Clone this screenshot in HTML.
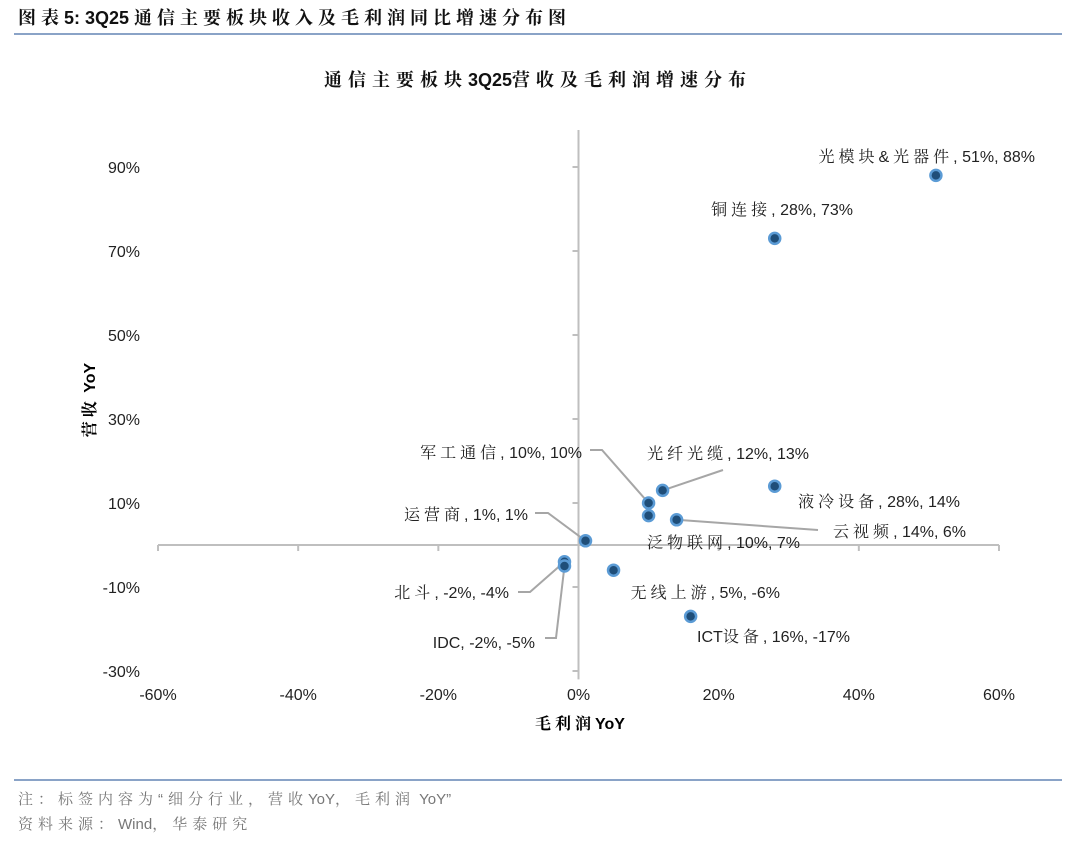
<!DOCTYPE html>
<html><head><meta charset="utf-8"><style>
body{margin:0;background:#fff;width:1080px;height:841px;overflow:hidden;font-family:"Liberation Sans","Noto Sans CJK SC",sans-serif;}
svg text{font-family:"Liberation Sans","Noto Serif CJK SC",serif;}
</style></head><body>
<svg width="1080" height="841">
<text id="ftitle" x="18" y="24" font-size="18" font-weight="bold" fill="#111"></text>
<line x1="14" y1="34" x2="1062" y2="34" stroke="#8aa3c7" stroke-width="2"/>
<text id="ctitle" x="538" y="86" font-size="18" font-weight="bold" text-anchor="middle" fill="#111"></text>
<g id="axes"></g>
<g id="leaders" stroke="#a6a6a6" stroke-width="2" fill="none"></g>
<g id="pts"></g>
<g id="lbls" font-size="16" fill="#222"></g>
<text id="xt" x="580" y="729" font-size="16" font-weight="bold" text-anchor="middle"></text>
<text id="yt" transform="translate(95,400) rotate(-90)" font-size="16" font-weight="bold" text-anchor="middle"></text>
<line x1="14" y1="780" x2="1062" y2="780" stroke="#8aa3c7" stroke-width="2"/>
<text id="n1" x="18" y="804" font-size="15" fill="#777"></text>
<text id="n2" x="18" y="829" font-size="15" fill="#777"></text>
</svg>
<script>
const names=["光模块&光器件","铜连接","军工通信","光纤光缆","泛物联网","云视频","液冷设备","运营商","北斗","IDC","无线上游","ICT设备"];
const grossYoY=[51,28,10,12,10,14,28,1,-2,-2,5,16];
const revYoY=[88,73,10,13,7,6,14,1,-4,-5,-6,-17];
const xTicks=[-60,-40,-20,0,20,40,60];
const yTicks=[90,70,50,30,10,-10,-30];
const lblPos=[[1035,162,"end"],[853,215,"end"],[582,458,"end"],[809,459,"end"],[800,548,"end"],[966,537,"end"],[960,507,"end"],[528,520,"end"],[509,598,"end"],[535,648,"end"],[780,598,"end"],[850,642,"end"]];
const X=v=>578.5+v*7.008, Y=v=>545-v*4.2;
const NS="http://www.w3.org/2000/svg";
function mk(t,a,p){const e=document.createElementNS(NS,t);for(const k in a)e.setAttribute(k,a[k]);p.appendChild(e);return e;}
function fill(el,s,ls){
  const re=/([\u3000-\u9fff\uff00-\uffef“”，：&]+)|([^\u3000-\u9fff\uff00-\uffef“”，：&]+)/g;let m;
  while((m=re.exec(s))){const sp=mk('tspan',{},el);sp.textContent=m[0];if(m[1])sp.setAttribute('letter-spacing',ls);}
}
fill(document.getElementById('ftitle'),"图表5:  3Q25 通信主要板块收入及毛利润同比增速分布图",5);
fill(document.getElementById('ctitle'),"通信主要板块3Q25营收及毛利润增速分布",6);
fill(document.getElementById('xt'),"毛利润YoY",4);
fill(document.getElementById('yt'),"营收 YoY",4);
fill(document.getElementById('n1'),"注：标签内容为“细分行业，营收YoY，毛利润 YoY”",5);
fill(document.getElementById('n2'),"资料来源：Wind，华泰研究",5);
const ax=document.getElementById('axes');
let e=mk('line',{x1:158,y1:Y(0),x2:999,y2:Y(0),stroke:'#bfbfbf','stroke-width':2},ax);


e=mk('line',{x1:X(0),y1:130,x2:X(0),y2:Y(-32),stroke:'#bfbfbf','stroke-width':2},ax);


xTicks.forEach(v=>{
  mk('line',{x1:X(v),y1:Y(0),x2:X(v),y2:Y(0)+6,stroke:'#bfbfbf','stroke-width':2},ax);
  const t=mk('text',{x:X(v),y:700,'font-size':16,'text-anchor':'middle',fill:'#222'},ax);t.textContent=v+'%';
  
  
});
yTicks.forEach(v=>{
  mk('line',{x1:X(0)-6,y1:Y(v),x2:X(0),y2:Y(v),stroke:'#bfbfbf','stroke-width':2},ax);
  const t=mk('text',{x:140,y:Y(v)+6,'font-size':16,'text-anchor':'end',fill:'#222'},ax);t.textContent=v+'%';
  
  
});
const ld=document.getElementById('leaders');
const lead=[[2,[[590,450],[602,450]]],[3,[[723,470]]],[7,[[535,513],[548,513]]],[5,[[818,530]]],[8,[[518,592],[530,592]]],[9,[[545,638],[556,638]]]];
lead.forEach(([i,pts])=>{
  const all=pts.concat([[X(grossYoY[i]),Y(revYoY[i])]]);
  const p=mk('polyline',{points:all.map(q=>q.join(',')).join(' ')},ld);
  
  
});
const pg=document.getElementById('pts'),lg=document.getElementById('lbls');
names.forEach((n,i)=>{
  const c=mk('circle',{cx:X(grossYoY[i]),cy:Y(revYoY[i]),r:5.5,fill:'#1f4e79',stroke:'#5b9bd5','stroke-width':2.5},pg);
  
  
  const [lx,ly,an]=lblPos[i];
  const t=mk('text',{x:lx,y:ly,'text-anchor':an},lg);
  fill(t,n+', '+grossYoY[i]+'%, '+revYoY[i]+'%',4);
  
  
});
</script>
</body></html>
